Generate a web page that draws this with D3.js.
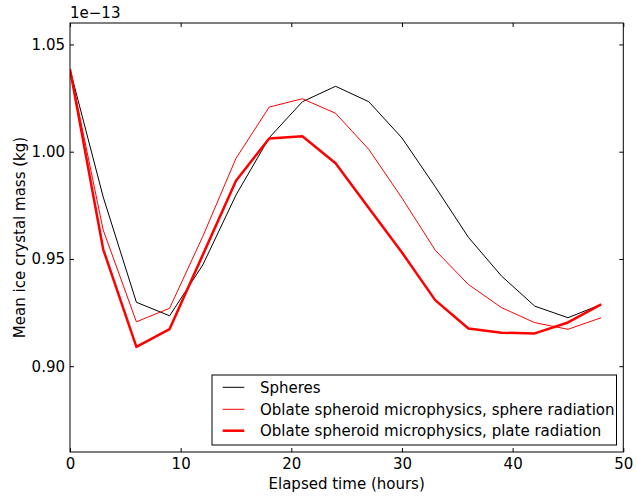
<!DOCTYPE html>
<html>
<head>
<meta charset="utf-8">
<script src="https://cdn.jsdelivr.net/npm/d3@7"></script>
<style>
  html, body { margin: 0; padding: 0; background: #fff; }
  svg { display: block; font-family: "DejaVu Sans", sans-serif; }
</style>
</head>
<body>
<svg id="chart" width="636" height="498"></svg>
<script>
// Elapsed time (hours) at each model output
const hours = [0, 3, 6, 9, 12, 15, 18, 21, 24, 27, 30, 33, 36, 39, 42, 45, 48];

// Mean ice crystal mass, in units of 1e-13 kg
const spheres = [1.0384, 0.9789, 0.9298, 0.9235, 0.9472, 0.9798, 1.0065, 1.0233, 1.0305, 1.0233, 1.0064, 0.9837, 0.9601, 0.9420, 0.9280, 0.9226, 0.9288];
const oblateSphereRad = [1.0384, 0.9635, 0.9207, 0.9270, 0.9605, 0.9969, 1.0208, 1.0247, 1.0179, 1.0011, 0.9784, 0.9541, 0.9381, 0.9273, 0.9203, 0.9172, 0.9226];
const oblatePlateRad = [1.0384, 0.9545, 0.9090, 0.9173, 0.9519, 0.9865, 1.0062, 1.0072, 0.9946, 0.9738, 0.9530, 0.9308, 0.9176, 0.9156, 0.9153, 0.9204, 0.9288];

const seriesNames = [
  "Spheres",
  "Oblate spheroid microphysics, sphere radiation",
  "Oblate spheroid microphysics, plate radiation"
];

const xTicks = [0, 10, 20, 30, 40, 50];
const yTicks = [0.90, 0.95, 1.00, 1.05];

const series = [
  { name: seriesNames[0], values: spheres, color: "#000000", width: 1 },
  { name: seriesNames[1], values: oblateSphereRad, color: "#ff0000", width: 1 },
  { name: seriesNames[2], values: oblatePlateRad, color: "#ff0000", width: 2.5 }
];

const W = 636, H = 498;
const margin = { top: 23, right: 12.7, bottom: 46, left: 70 };
const svg = d3.select("#chart");
const fontSize = 15;

const x = d3.scaleLinear().domain([0, 50]).range([margin.left, W - margin.right]);
const y = d3.scaleLinear().domain([0.86, 1.06]).range([H - margin.bottom, margin.top]);

// Data lines, clipped to the axes area
svg.append("clipPath").attr("id", "plotclip")
  .append("rect")
  .attr("x", margin.left).attr("y", margin.top)
  .attr("width", W - margin.left - margin.right)
  .attr("height", H - margin.top - margin.bottom);

const line = d3.line().x((d, i) => x(hours[i])).y(d => y(d));
const plot = svg.append("g").attr("clip-path", "url(#plotclip)");
series.forEach(s => {
  plot.append("path")
    .datum(s.values)
    .attr("fill", "none")
    .attr("stroke", s.color)
    .attr("stroke-width", s.width)
    .attr("stroke-linejoin", "round")
    .attr("d", line);
});

// Axes with inward ticks on all four sides
const tickLen = 4;
const fmtY = d3.format(".2f");
const bottomAxis = d3.axisBottom(x).tickValues(xTicks).tickSizeInner(-tickLen).tickSizeOuter(0).tickPadding(6);
const topAxis = d3.axisTop(x).tickValues(xTicks).tickSizeInner(-tickLen).tickSizeOuter(0).tickFormat("");
const leftAxis = d3.axisLeft(y).tickValues(yTicks).tickSizeInner(-tickLen).tickSizeOuter(0).tickPadding(5).tickFormat(fmtY);
const rightAxis = d3.axisRight(y).tickValues(yTicks).tickSizeInner(-tickLen).tickSizeOuter(0).tickFormat("");

function styleAxis(g) {
  g.select(".domain").remove();
  g.selectAll(".tick line").attr("stroke", "#000").attr("stroke-width", 1);
  g.selectAll(".tick text").attr("fill", "#000").attr("font-size", fontSize)
    .attr("font-family", "DejaVu Sans, sans-serif");
}

svg.append("g").attr("transform", `translate(0,${H - margin.bottom})`).call(bottomAxis).call(styleAxis);
svg.append("g").attr("transform", `translate(0,${margin.top})`).call(topAxis).call(styleAxis);
svg.append("g").attr("transform", `translate(${margin.left},0)`).call(leftAxis).call(styleAxis);
svg.append("g").attr("transform", `translate(${W - margin.right},0)`).call(rightAxis).call(styleAxis);

// Frame
svg.append("rect")
  .attr("x", margin.left).attr("y", margin.top)
  .attr("width", W - margin.left - margin.right)
  .attr("height", H - margin.top - margin.bottom)
  .attr("fill", "none").attr("stroke", "#000").attr("stroke-width", 1);

// Axis labels and exponent offset
svg.append("text")
  .attr("x", (margin.left + W - margin.right) / 2).attr("y", 489)
  .attr("text-anchor", "middle").attr("font-size", fontSize)
  .text("Elapsed time (hours)");

svg.append("text")
  .attr("transform", `translate(25,${(margin.top + H - margin.bottom) / 2}) rotate(-90)`)
  .attr("text-anchor", "middle").attr("font-size", fontSize)
  .text("Mean ice crystal mass (kg)");

svg.append("text")
  .attr("x", margin.left).attr("y", 18)
  .attr("font-size", fontSize)
  .text("1e\u221213");

// Legend
const legend = svg.append("g");
legend.append("rect")
  .attr("x", 212).attr("y", 375)
  .attr("width", 404.5).attr("height", 70)
  .attr("fill", "#fff").attr("stroke", "#000").attr("stroke-width", 1);

const rowY = [387.3, 409.3, 430.7];
series.forEach((s, i) => {
  legend.append("line")
    .attr("x1", 222.7).attr("x2", 244.3)
    .attr("y1", rowY[i]).attr("y2", rowY[i])
    .attr("stroke", s.color).attr("stroke-width", s.width);
  legend.append("text")
    .attr("x", 260).attr("y", rowY[i])
    .attr("dy", "0.35em")
    .attr("font-size", fontSize)
    .text(s.name);
});
</script>
</body>
</html>
